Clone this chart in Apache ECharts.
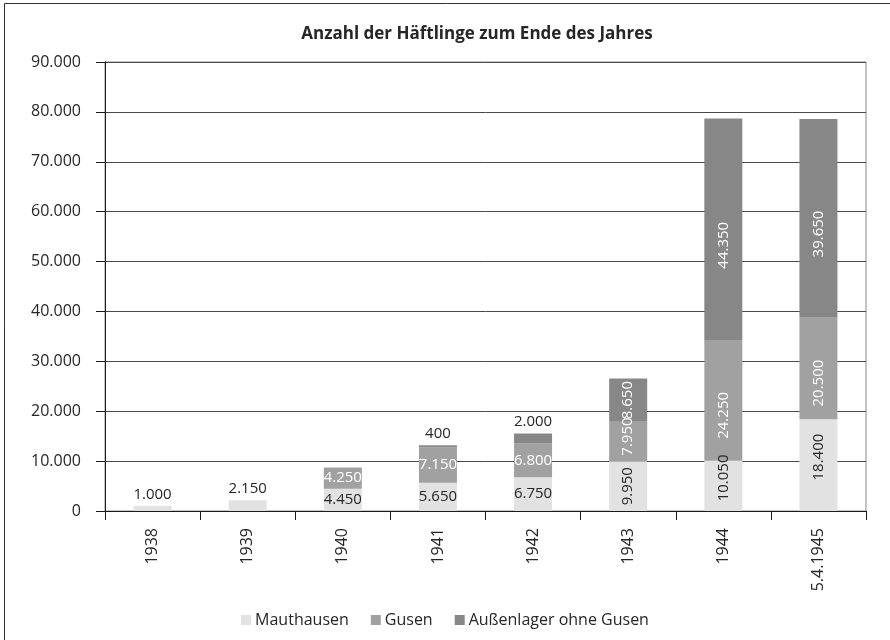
<!DOCTYPE html>
<html>
<head>
<meta charset="utf-8">
<script src="https://cdn.jsdelivr.net/npm/echarts@6/dist/echarts.min.js"></script>
<style>
  html, body { margin: 0; padding: 0; background: #fff; }
  #chart { width: 890px; height: 640px; }
</style>
</head>
<body>
<div id="chart"></div>
<script>
const years = ['1938', '1939', '1940', '1941', '1942', '1943', '1944', '5.4.1945'];
const mauthausen = [1000, 2150, 4450, 5650, 6750, 9950, 10050, 18400];
const gusen = [null, null, 4250, 7150, 6800, 7950, 24250, 20500];
const aussenlager = [null, null, null, 400, 2000, 8650, 44350, 39650];

const font = '"Open Sans", "Noto Sans", sans-serif';
const dark = '#262626';

// German thousands separator
const fmt = (v) => String(v).replace(/\B(?=(\d{3})+(?!\d))/g, '.');

// label look per bar: 'top' above, 'in' horizontal inside, 'rot' rotated inside
// dy = how far to push a rotated label down on screen
const labelPlan = {
  Mauthausen: { color: dark, modes: ['top', 'top', 'in', 'in', 'in', 'rot', 'rot', 'rot'], dy: [0, 0, 0, 0, 0, 0, -8, -8] },
  Gusen: { color: '#fff', modes: [null, null, 'in', 'in', 'in', 'rot', 'rot', 'rot'], dy: [0, 0, 0, 0, 0, -5, 15, 15] },
  'Außenlager ohne Gusen': { color: '#fff', modes: [null, null, null, 'top', 'top', 'rot', 'rot', 'rot'], dy: [0, 0, 0, 0, 0, 0, 16, 16] },
};

const buildData = (name, values) => {
  const plan = labelPlan[name];
  return values.map((v, i) => {
    const mode = plan.modes[i];
    if (v == null) return { value: null };
    const label = { show: true, formatter: fmt(v), fontFamily: font, fontSize: 15 };
    if (mode === 'top') {
      Object.assign(label, { position: 'top', color: dark, distance: 4 });
    } else if (mode === 'in') {
      Object.assign(label, { position: 'inside', color: plan.color });
    } else {
      // offset is in the rotated frame, so screen-down is negative x
      Object.assign(label, { position: 'inside', rotate: 90, color: plan.color, offset: [-plan.dy[i], 0] });
    }
    return { value: v, label };
  });
};

const chart = echarts.init(document.getElementById('chart'));
chart.setOption({
  animation: false,
  color: ['#e2e2e2', '#a1a1a1', '#878787'],
  title: {
    text: 'Anzahl der Häftlinge zum Ende des Jahres',
    left: 472,
    top: 21,
    textAlign: 'center',
    textStyle: { fontFamily: font, fontSize: 17, fontWeight: 'bold', color: dark },
  },
  legend: {
    left: 'center',
    top: 607,
    icon: 'rect',
    itemWidth: 10,
    itemHeight: 10,
    itemGap: 22,
    textStyle: { fontFamily: font, fontSize: 16, color: dark, padding: [0, 0, 0, -1] },
    data: ['Mauthausen', 'Gusen', 'Außenlager ohne Gusen'],
  },
  grid: {
    left: 105,
    right: 24,
    top: 62,
    bottom: 129,
    show: true,
    borderColor: '#8a8a8a',
    borderWidth: 1,
  },
  xAxis: {
    type: 'category',
    data: years,
    axisLine: { lineStyle: { color: '#1a1a1a', width: 1 } },
    axisTick: { show: true, length: 9, lineStyle: { color: '#1a1a1a' } },
    axisLabel: { rotate: 90, margin: 17, fontFamily: font, fontSize: 16, color: dark },
  },
  yAxis: {
    type: 'value',
    min: 0,
    max: 90000,
    interval: 10000,
    axisLine: { show: true, lineStyle: { color: '#1a1a1a', width: 1 } },
    axisTick: { show: true, length: 9, lineStyle: { color: '#1a1a1a' } },
    axisLabel: { margin: 24, fontFamily: font, fontSize: 16, color: dark, formatter: fmt },
    splitLine: { lineStyle: { color: '#4a4a4a', width: 1 } },
  },
  series: [
    { name: 'Mauthausen', type: 'bar', stack: 'total', barWidth: 38, data: buildData('Mauthausen', mauthausen) },
    { name: 'Gusen', type: 'bar', stack: 'total', barWidth: 38, data: buildData('Gusen', gusen) },
    { name: 'Außenlager ohne Gusen', type: 'bar', stack: 'total', barWidth: 38, data: buildData('Außenlager ohne Gusen', aussenlager) },
  ],
  graphic: [
    { type: 'line', shape: { x1: 4.5, y1: 3.5, x2: 4.5, y2: 640 }, style: { stroke: '#333', lineWidth: 1 } },
    { type: 'line', shape: { x1: 4.5, y1: 3.5, x2: 890, y2: 3.5 }, style: { stroke: '#333', lineWidth: 1 } },
  ],
});
</script>
</body>
</html>
